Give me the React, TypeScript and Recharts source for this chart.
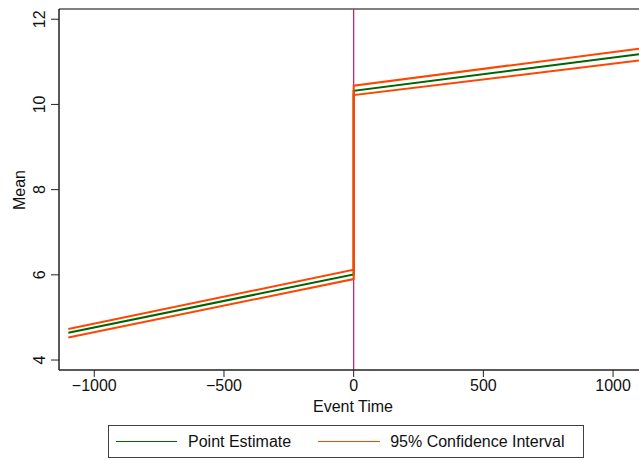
import { LineChart, Line, XAxis, YAxis, ReferenceLine, Label } from 'recharts';

const font = '"Liberation Sans", Arial, Helvetica, sans-serif';

// event time, with two rows at 0 for the jump
const eventTime = [-1100, 0, 0, 1100];
const pointEstimate = [4.64, 6.01, 10.32, 11.18];
const ciUpper = [4.73, 6.12, 10.44, 11.31];
const ciLower = [4.53, 5.9, 10.22, 11.03];

const xTicks = [-1000, -500, 0, 500, 1000];
const yTicks = [4, 6, 8, 10, 12];

const xDomain = [-1136, 1100];
const yDomain = [3.766, 12.24];

const chartData = eventTime.map((t, i) => ({
  t,
  est: pointEstimate[i],
  hi: ciUpper[i],
  lo: ciLower[i],
}));

const fmt = (v: number) => (v < 0 ? `\u2212${Math.abs(v)}` : `${v}`);

function YTick({ x, y, payload }: any) {
  return (
    <text x={x} y={y} transform={`rotate(-90, ${x}, ${y})`} textAnchor="middle" fill="#111" fontSize={16} fontFamily={font}>
      {payload.value}
    </text>
  );
}

export default function App() {
  return (
    <div style={{ position: 'absolute', left: 0, top: 0, width: 639, height: 460, background: '#fff', fontFamily: font }}>
      <LineChart width={639} height={460} data={chartData} margin={{ top: 9, right: 0, bottom: 40, left: 0 }}>
        <XAxis
          dataKey="t"
          type="number"
          domain={xDomain}
          allowDataOverflow
          ticks={xTicks}
          tickFormatter={fmt}
          tickSize={7}
          tickMargin={3}
          height={50}
          axisLine={{ stroke: '#222', strokeWidth: 1.5 }}
          tickLine={{ stroke: '#222' }}
          tick={{ fill: '#111', fontSize: 16, fontFamily: font }}
        >
          <Label
            content={() => (
              <text x={353} y={412} textAnchor="middle" fill="#111" fontSize={16} fontFamily={font}>
                Event Time
              </text>
            )}
          />
        </XAxis>
        <YAxis
          type="number"
          domain={yDomain}
          allowDataOverflow
          ticks={yTicks}
          width={59}
          tickSize={8}
          tickMargin={6}
          axisLine={{ stroke: '#222', strokeWidth: 1.5 }}
          tickLine={{ stroke: '#222' }}
          tick={<YTick />}
        >
          <Label
            content={() => (
              <text x={25} y={190} transform="rotate(-90, 25, 190)" textAnchor="middle" fill="#111" fontSize={16} fontFamily={font}>
                Mean
              </text>
            )}
          />
        </YAxis>
        <ReferenceLine y={yDomain[1]} stroke="#808080" strokeWidth={2} />
        <ReferenceLine x={0} stroke="#c2185b" strokeWidth={1.2} />
        <Line type="linear" dataKey="est" stroke="#006400" strokeWidth={2} dot={false} isAnimationActive={false} />
        <Line type="linear" dataKey="hi" stroke="#ff4500" strokeWidth={2} dot={false} isAnimationActive={false} />
        <Line type="linear" dataKey="lo" stroke="#ff4500" strokeWidth={2} dot={false} isAnimationActive={false} />
      </LineChart>
      <div
        style={{
          position: 'absolute',
          left: 108,
          top: 425,
          width: 476,
          height: 33,
          boxSizing: 'border-box',
          border: '1px solid #404040',
          display: 'flex',
          alignItems: 'center',
          fontSize: 16,
          color: '#111',
        }}
      >
        <span style={{ display: 'inline-block', width: 61, height: 0, borderTop: '1.5px solid #006400', marginLeft: 7 }} />
        <span style={{ marginLeft: 11 }}>Point Estimate</span>
        <span style={{ display: 'inline-block', width: 62, height: 0, borderTop: '1.5px solid #ff4500', marginLeft: 27 }} />
        <span style={{ marginLeft: 10 }}>95% Confidence Interval</span>
      </div>
    </div>
  );
}
